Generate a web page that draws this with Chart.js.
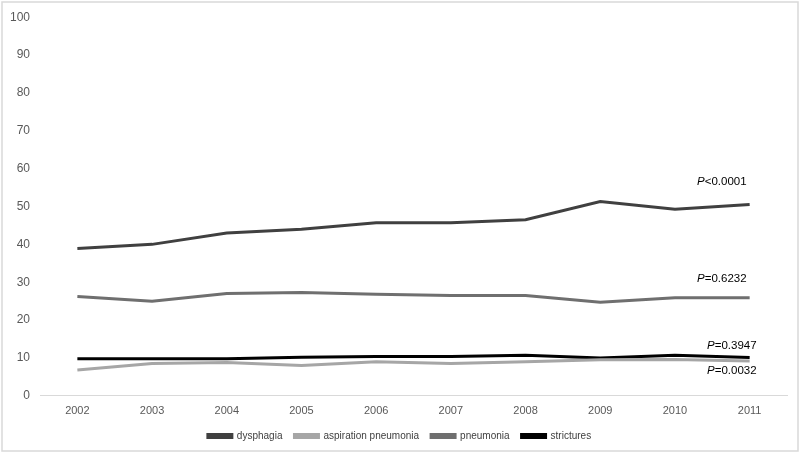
<!DOCTYPE html>
<html>
<head>
<meta charset="utf-8">
<script src="https://cdn.jsdelivr.net/npm/chart.js@4/dist/chart.umd.min.js"></script>
<style>
html,body{margin:0;padding:0;background:#fff;}
#wrap{width:800px;height:453px;position:relative;}
</style>
</head>
<body>
<div id="wrap"><canvas id="c" width="800" height="453"></canvas></div>
<script>
const years = ['2002','2003','2004','2005','2006','2007','2008','2009','2010','2011'];
const dysphagia = [38.9, 40.0, 43.0, 44.0, 45.7, 45.7, 46.5, 51.3, 49.3, 50.5];
const aspirationPneumonia = [6.8, 8.5, 8.8, 8.0, 9.0, 8.5, 9.0, 9.5, 9.6, 9.2];
const pneumonia = [26.2, 25.0, 27.0, 27.3, 26.8, 26.5, 26.5, 24.7, 25.9, 25.9];
const strictures = [9.8, 9.8, 9.8, 10.2, 10.4, 10.4, 10.7, 10.0, 10.7, 10.1];
const pLabels = ['<0.0001', '=0.6232', '=0.3947', '=0.0032'];
const pValuesY = [56.6, 30.8, 13.2, 6.6];

const annot = {
  id: 'annot',
  afterDatasetsDraw(chart) {
    const ctx = chart.ctx;
    const xs = chart.scales.x, ys = chart.scales.y;
    const xr = xs.getPixelForValue(years.length - 1);
    const offs = [-3, -3, 7, 7];
    const fam = '"Liberation Sans", Arial, sans-serif';
    ctx.save();
    ctx.fillStyle = '#000';
    ctx.textBaseline = 'middle';
    ctx.textAlign = 'left';
    pLabels.forEach((t, i) => {
      const y = ys.getPixelForValue(pValuesY[i]);
      const right = xr + offs[i];
      ctx.font = '11.5px ' + fam;
      const w2 = ctx.measureText(t).width;
      ctx.font = 'italic 11.5px ' + fam;
      const w1 = ctx.measureText('P').width;
      const x0 = right - w1 - w2;
      ctx.fillText('P', x0, y);
      ctx.font = '11.5px ' + fam;
      ctx.fillText(t, x0 + w1, y);
    });
    ctx.restore();
  }
};
const border = {
  id: 'border',
  afterDraw(chart) {
    const ctx = chart.ctx;
    ctx.save();
    ctx.strokeStyle = '#d9d9d9';
    ctx.lineWidth = 1.5;
    ctx.strokeRect(2, 2, 796, 449);
    ctx.restore();
  }
};
const legendShift = {
  id: 'legendShift',
  afterLayout(chart) {
    const lg = chart.legend;
    if (!lg) return;
    const h = lg.height;
    lg.top = 419;
    lg.bottom = lg.top + h;
    lg.left += 6;
    lg.right += 6;
  }
};

const mk = (label, data, color) => ({
  label, data, borderColor: color, backgroundColor: color,
  borderWidth: 3, pointRadius: 0, tension: 0, fill: false
});

new Chart(document.getElementById('c'), {
  type: 'line',
  data: {
    labels: years,
    datasets: [
      mk('dysphagia', dysphagia, '#404040'),
      mk('aspiration pneumonia', aspirationPneumonia, '#a6a6a6'),
      mk('pneumonia', pneumonia, '#6f6f6f'),
      mk('strictures', strictures, '#000000')
    ]
  },
  options: {
    responsive: false,
    animation: false,
    layout: { padding: { left: 0, right: 13, top: 8, bottom: 0 } },
    plugins: {
      legend: {
        position: 'bottom',
        maxHeight: 26,
        labels: {
          boxWidth: 24, boxHeight: 3, padding: 12,
          color: '#404040',
          font: { family: '"Liberation Sans", Arial, sans-serif', size: 10 }
        }
      },
      tooltip: { enabled: false }
    },
    scales: {
      x: {
        offset: true,
        grid: { display: false, drawTicks: false },
        border: { display: true, color: '#d9d9d9', width: 1 },
        ticks: { color: '#595959', padding: 9, font: { family: '"Liberation Sans", Arial, sans-serif', size: 11 } }
      },
      y: {
        min: 0, max: 100,
        ticks: { stepSize: 10, color: '#595959', padding: 10, font: { family: '"Liberation Sans", Arial, sans-serif', size: 12 } },
        grid: { display: false, drawTicks: false },
        border: { display: false }
      }
    }
  },
  plugins: [annot, border, legendShift]
});
</script>
</body>
</html>
